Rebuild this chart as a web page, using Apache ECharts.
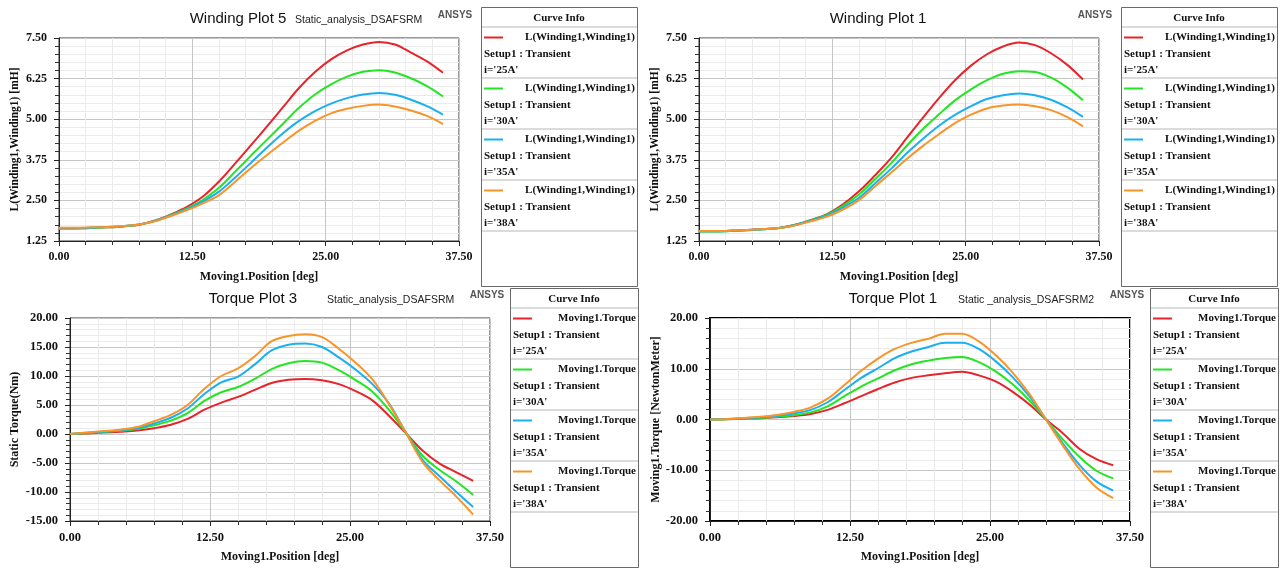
<!DOCTYPE html>
<html>
<head>
<meta charset="utf-8">
<script src="https://cdn.jsdelivr.net/npm/echarts@6/dist/echarts.min.js"></script>
<style>
  html, body { margin: 0; padding: 0; background: #ffffff; }
  #chart { width: 1283px; height: 569px; }
</style>
</head>
<body>
<div id="chart"></div>
<script>
// Rotor position samples [deg]
const positionDeg = [0, 1.5, 3, 4.5, 6, 7.5, 9, 10.5, 12, 13.5, 15, 16.5, 18, 19.5, 21, 22.5, 24, 25.5, 27, 28.5, 30, 31.5, 33, 34.5, 36];

// Phase currents for each curve
const currents = ["25A", "30A", "35A", "38A"];

// Winding Plot 5 : inductance [mH]
const w5_25A = [1.64, 1.64, 1.65, 1.67, 1.70, 1.75, 1.88, 2.07, 2.30, 2.62, 3.08, 3.63, 4.20, 4.78, 5.37, 5.96, 6.45, 6.84, 7.12, 7.30, 7.38, 7.30, 7.05, 6.78, 6.43];
const w5_30A = [1.63, 1.63, 1.65, 1.67, 1.70, 1.75, 1.87, 2.05, 2.25, 2.52, 2.89, 3.38, 3.88, 4.37, 4.86, 5.35, 5.76, 6.07, 6.31, 6.46, 6.51, 6.44, 6.26, 6.02, 5.70];
const w5_35A = [1.65, 1.65, 1.66, 1.68, 1.71, 1.76, 1.87, 2.04, 2.23, 2.47, 2.77, 3.20, 3.66, 4.13, 4.57, 4.95, 5.25, 5.48, 5.65, 5.76, 5.81, 5.75, 5.60, 5.40, 5.14];
const w5_38A = [1.66, 1.66, 1.67, 1.68, 1.71, 1.76, 1.86, 2.02, 2.20, 2.41, 2.66, 3.07, 3.50, 3.90, 4.28, 4.65, 4.95, 5.18, 5.32, 5.41, 5.45, 5.39, 5.27, 5.10, 4.85];

// Winding Plot 1 : inductance [mH]
const w1_25A = [1.55, 1.55, 1.57, 1.59, 1.62, 1.65, 1.75, 1.90, 2.08, 2.38, 2.78, 3.27, 3.80, 4.43, 5.05, 5.65, 6.20, 6.65, 7.00, 7.24, 7.36, 7.28, 7.03, 6.68, 6.22];
const w1_30A = [1.54, 1.54, 1.56, 1.58, 1.61, 1.65, 1.74, 1.89, 2.06, 2.33, 2.68, 3.15, 3.64, 4.19, 4.70, 5.15, 5.58, 5.92, 6.20, 6.40, 6.48, 6.45, 6.28, 5.98, 5.58];
const w1_35A = [1.55, 1.55, 1.56, 1.58, 1.61, 1.65, 1.74, 1.88, 2.04, 2.28, 2.58, 3.02, 3.47, 3.96, 4.40, 4.80, 5.13, 5.40, 5.62, 5.74, 5.79, 5.74, 5.60, 5.37, 5.07];
const w1_38A = [1.56, 1.56, 1.57, 1.59, 1.62, 1.65, 1.73, 1.86, 2.00, 2.22, 2.51, 2.93, 3.35, 3.78, 4.18, 4.54, 4.88, 5.14, 5.33, 5.42, 5.45, 5.40, 5.28, 5.07, 4.78];

// Torque Plot 3 : static torque [Nm]
const t3_25A = [0, 0.10, 0.25, 0.40, 0.60, 1.0, 1.6, 2.6, 4.2, 5.4, 6.4, 7.6, 8.8, 9.35, 9.5, 9.25, 8.6, 7.4, 5.8, 3.1, 0.1, -2.9, -5.1, -6.6, -8.1];
const t3_30A = [0, 0.15, 0.35, 0.55, 0.85, 1.5, 2.3, 3.6, 5.7, 7.2, 8.1, 9.5, 11.2, 12.2, 12.6, 12.3, 11.0, 9.3, 7.3, 4.1, 0.2, -3.8, -6.2, -8.2, -10.5];
const t3_35A = [0, 0.20, 0.40, 0.65, 1.0, 1.8, 2.8, 4.4, 6.9, 8.9, 9.9, 12.0, 14.4, 15.4, 15.6, 15.0, 13.2, 11.1, 8.6, 5.2, 0.2, -4.5, -7.3, -10.0, -12.6];
const t3_38A = [0, 0.25, 0.50, 0.75, 1.2, 2.2, 3.3, 5.0, 7.8, 10.0, 11.3, 13.4, 16.0, 16.9, 17.2, 16.7, 14.7, 12.3, 9.4, 5.1, 0.2, -4.9, -8.0, -10.8, -13.9];

// Torque Plot 1 : torque [NewtonMeter]
const t1_25A = [0, 0.05, 0.15, 0.25, 0.45, 0.7, 1.1, 1.9, 3.2, 4.6, 6.0, 7.3, 8.2, 8.7, 9.1, 9.4, 8.7, 7.5, 5.5, 3.0, 0, -2.7, -5.8, -7.8, -9.0];
const t1_30A = [0, 0.05, 0.20, 0.35, 0.55, 0.86, 1.4, 2.6, 4.6, 6.5, 8.1, 9.7, 10.9, 11.6, 12.1, 12.3, 11.3, 9.5, 7.0, 3.8, 0, -3.9, -7.4, -10.1, -11.6];
const t1_35A = [0, 0.08, 0.25, 0.45, 0.75, 1.2, 1.9, 3.4, 5.8, 8.2, 10.1, 12.1, 13.4, 14.3, 15.1, 15.1, 13.9, 11.5, 8.4, 4.6, 0, -4.7, -9.0, -12.2, -14.0];
const t1_38A = [0, 0.10, 0.30, 0.55, 0.9, 1.5, 2.4, 4.1, 6.8, 9.6, 12.0, 13.9, 15.1, 15.9, 16.9, 16.9, 15.4, 12.7, 9.3, 5.1, 0, -5.1, -9.8, -13.4, -15.5];

// Axis ticks
const xTicks = { min: 0, max: 37.5, step: 12.5 };
const windingTicks = { min: 1.25, max: 7.5, step: 1.25 };
const torque3Ticks = { min: -15, max: 20, step: 5 };
const torque1Ticks = { min: -20, max: 20, step: 10 };

// Text
const xAxisTitle = "Moving1.Position [deg]";
const panels = [
  { title: "Winding Plot 5", sub: "Static_analysis_DSAFSRM", yName: "L(Winding1,Winding1) [mH]", quantity: "L(Winding1,Winding1)", curves: [w5_25A, w5_30A, w5_35A, w5_38A], ticks: windingTicks },
  { title: "Winding Plot 1", sub: "", yName: "L(Winding1,Winding1) [mH]", quantity: "L(Winding1,Winding1)", curves: [w1_25A, w1_30A, w1_35A, w1_38A], ticks: windingTicks },
  { title: "Torque Plot 3", sub: "Static_analysis_DSAFSRM", yName: "Static Torque(Nm)", quantity: "Moving1.Torque", curves: [t3_25A, t3_30A, t3_35A, t3_38A], ticks: torque3Ticks },
  { title: "Torque Plot 1", sub: "Static _analysis_DSAFSRM2", yName: "Moving1.Torque [NewtonMeter]", quantity: "Moving1.Torque", curves: [t1_25A, t1_30A, t1_35A, t1_38A], ticks: torque1Ticks }
];
const setupLabel = "Setup1 : Transient";
const legendHeader = "Curve Info";
const brandLabel = "ANSYS";

// ---- styling / layout ----
const colors = ['#e8232b', '#22e622', '#1caff0', '#f8942a'];
const layout = [
  { grid: { left: 59, top: 38, width: 400, height: 203 }, yGap: 38, titleX: 238, subX: 295, brandX: 455, titleY: 19, box: [481, 7, 637, 286], frame: ['#333', 1] },
  { grid: { left: 699, top: 38, width: 400, height: 203 }, yGap: 38, titleX: 878, subX: 0, brandX: 1095, titleY: 19, box: [1121, 7, 1277, 286], frame: ['#333', 1] },
  { grid: { left: 70, top: 318, width: 420, height: 203 }, yGap: 49, titleX: 253, subX: 327, brandX: 487, titleY: 299, box: [510, 288, 638, 567], frame: ['#333', 1] },
  { grid: { left: 710, top: 318, width: 420, height: 203 }, yGap: 48, titleX: 893, subX: 958, brandX: 1127, titleY: 299, box: [1150, 288, 1278, 567], frame: ['#000', 2] }
];

const serif = '"Liberation Serif", "Times New Roman", serif';
const sans = '"Liberation Sans", Arial, sans-serif';
const fmt2 = v => v.toFixed(2);

function axisCommon(i) {
  return {
    gridIndex: i,
    type: 'value',
    axisLine: { show: true, onZero: false, lineStyle: { color: '#222', width: 1 } },
    axisTick: { show: true, inside: false, length: 5, lineStyle: { color: '#222' } },
    minorTick: { show: true, splitNumber: 5, length: 4, lineStyle: { color: '#333' } },
    splitLine: { show: true, lineStyle: { color: '#c6c6c6', width: 1 } },
    minorSplitLine: { show: true, lineStyle: { color: '#ebebeb', width: 1 } },
    nameLocation: 'middle',
    nameTextStyle: { fontFamily: serif, fontWeight: 'bold', fontSize: 12, color: '#111' },
    axisLabel: { formatter: fmt2, fontFamily: serif, fontWeight: 'bold', fontSize: 12, color: '#111' }
  };
}

const grid = [], xAxis = [], yAxis = [], series = [], graphic = [];

panels.forEach((p, i) => {
  const L = layout[i];
  grid.push(Object.assign({ show: true, backgroundColor: '#fff', borderColor: L.frame[0], borderWidth: L.frame[1] }, L.grid));

  const xa = axisCommon(i);
  Object.assign(xa, { min: xTicks.min, max: xTicks.max, interval: xTicks.step, name: xAxisTitle, nameGap: 30 });
  xa.axisLabel.margin = 10;
  xa.axisLabel.fontSize = i < 2 ? 12 : 12.5;
  xAxis.push(xa);

  const ya = axisCommon(i);
  Object.assign(ya, { min: p.ticks.min, max: p.ticks.max, interval: p.ticks.step, name: p.yName, nameGap: L.yGap });
  ya.axisLabel.margin = 12;
  ya.axisLabel.fontSize = i < 2 ? 12 : 12.5;
  if (i < 2) ya.nameTextStyle.fontSize = 11.5;
  yAxis.push(ya);

  p.curves.forEach((vals, k) => {
    series.push({
      type: 'line',
      name: p.title + ' ' + currents[k],
      xAxisIndex: i,
      yAxisIndex: i,
      data: positionDeg.map((x, j) => [x, vals[j]]),
      showSymbol: false,
      symbol: 'none',
      smooth: 0.35,
      lineStyle: { color: colors[k], width: 2 },
      itemStyle: { color: colors[k] },
      z: 3 + k,
      silent: true
    });
  });

  // titles
  graphic.push({ type: 'text', x: L.titleX, y: L.titleY, style: { text: p.title, font: '15px ' + sans, fill: '#111', align: 'center', verticalAlign: 'middle', textAlign: 'center', textVerticalAlign: 'middle' } });
  if (p.sub) {
    graphic.push({ type: 'text', x: L.subX, y: L.titleY + 1, style: { text: p.sub, font: '10.5px ' + sans, fill: '#222', align: 'left', verticalAlign: 'middle', textAlign: 'left', textVerticalAlign: 'middle' } });
  }
  graphic.push({ type: 'text', x: L.brandX, y: L.titleY - 4, style: { text: brandLabel, font: 'bold 10px ' + sans, fill: '#555', align: 'center', verticalAlign: 'middle', textAlign: 'center', textVerticalAlign: 'middle' } });

  // curve info box
  const [bl, bt, br, bb] = L.box;
  graphic.push({ type: 'rect', shape: { x: bl + 0.5, y: bt + 0.5, width: br - bl, height: bb - bt }, style: { fill: '#fff', stroke: '#6a6a6a', lineWidth: 1 }, z: 10 });
  graphic.push({ type: 'text', x: (bl + br) / 2, y: bt + 11, z: 11, style: { text: legendHeader, font: 'bold 11px ' + serif, fill: '#111', align: 'center', verticalAlign: 'middle', textAlign: 'center', textVerticalAlign: 'middle' } });
  let d = bt + 20;
  graphic.push({ type: 'line', z: 11, shape: { x1: bl + 1, y1: d, x2: br, y2: d }, style: { stroke: '#cfcfcf', lineWidth: 1.5 } });
  currents.forEach((c, k) => {
    graphic.push({ type: 'line', z: 11, shape: { x1: bl + 3, y1: d + 10.5, x2: bl + 22, y2: d + 10.5 }, style: { stroke: colors[k], lineWidth: 2 } });
    graphic.push({ type: 'text', x: br - 2, y: d + 10.5, z: 11, style: { text: p.quantity, font: 'bold 11px ' + serif, fill: '#111', align: 'right', verticalAlign: 'middle', textAlign: 'right', textVerticalAlign: 'middle' } });
    graphic.push({ type: 'text', x: bl + 3, y: d + 27.5, z: 11, style: { text: setupLabel, font: 'bold 11px ' + serif, fill: '#111', align: 'left', verticalAlign: 'middle', textAlign: 'left', textVerticalAlign: 'middle' } });
    graphic.push({ type: 'text', x: bl + 3, y: d + 43, z: 11, style: { text: "i='" + c + "'", font: 'bold 11px ' + serif, fill: '#111', align: 'left', verticalAlign: 'middle', textAlign: 'left', textVerticalAlign: 'middle' } });
    d += 51;
    graphic.push({ type: 'line', z: 11, shape: { x1: bl + 1, y1: d, x2: br, y2: d }, style: { stroke: '#cfcfcf', lineWidth: 1.5 } });
  });
});

const chart = echarts.init(document.getElementById('chart'), null, { renderer: 'canvas' });
chart.setOption({
  animation: false,
  backgroundColor: '#ffffff',
  grid, xAxis, yAxis, series, graphic
});
</script>
</body>
</html>
